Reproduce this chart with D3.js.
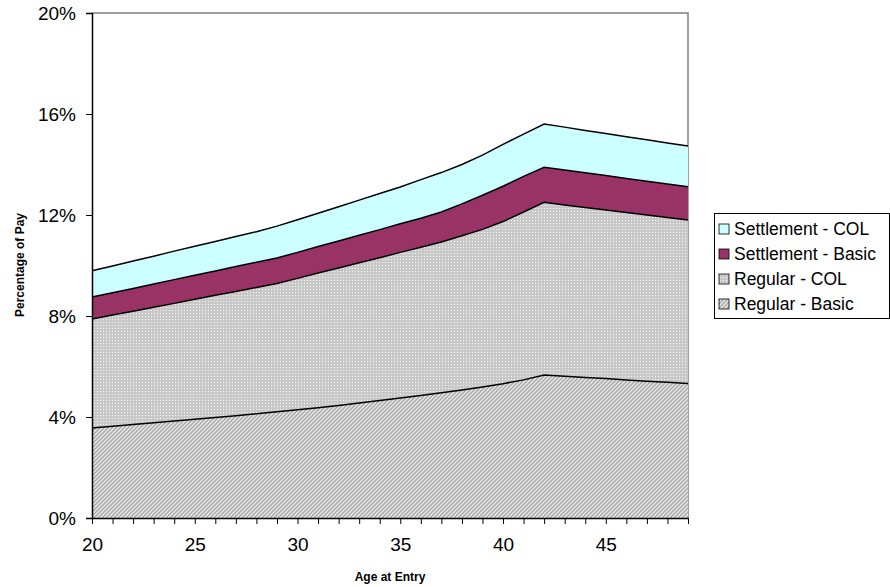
<!DOCTYPE html>
<html>
<head>
<meta charset="utf-8">
<script src="https://cdn.jsdelivr.net/npm/d3@7"></script>
<style>
  body { margin: 0; background: #fff; }
  svg { font-family: "Liberation Sans", Arial, sans-serif; }
</style>
</head>
<body>
<svg id="svg" width="890" height="587"></svg>
<script>
// ages on the category axis
const ages = d3.range(20, 50);

// series values, percent of pay
const regularBasic = [3.56, 3.63, 3.70, 3.77, 3.84, 3.91, 3.98, 4.05, 4.13, 4.21,
    4.29, 4.37, 4.46, 4.55, 4.65, 4.75, 4.85, 4.96, 5.07, 5.19,
    5.32, 5.47, 5.66, 5.61, 5.56, 5.52, 5.47, 5.42, 5.38, 5.33];
const regularCol = [4.32, 4.41, 4.49, 4.58, 4.66, 4.75, 4.84, 4.92, 5.00, 5.08,
    5.20, 5.33, 5.44, 5.56, 5.66, 5.77, 5.87, 5.97, 6.11, 6.24,
    6.42, 6.65, 6.84, 6.79, 6.74, 6.68, 6.63, 6.58, 6.52, 6.47];
const settlementBasic = [0.87, 0.88, 0.90, 0.92, 0.94, 0.95, 0.96, 0.99, 1.00, 1.01,
    1.03, 1.05, 1.07, 1.09, 1.11, 1.13, 1.15, 1.19, 1.26, 1.35,
    1.40, 1.41, 1.39, 1.38, 1.37, 1.36, 1.35, 1.34, 1.33, 1.32];
const settlementCol = [1.04, 1.06, 1.09, 1.10, 1.13, 1.15, 1.17, 1.19, 1.21, 1.26,
    1.29, 1.32, 1.36, 1.39, 1.43, 1.46, 1.53, 1.56, 1.56, 1.59,
    1.66, 1.67, 1.71, 1.70, 1.68, 1.67, 1.65, 1.64, 1.62, 1.61];

const seriesNames = ["Regular - Basic", "Regular - COL", "Settlement - Basic", "Settlement - COL"];
const yTicks = [0, 4, 8, 12, 16, 20];

let svg = d3.select("#svg");

// plot area
const plotLeft = 92, plotRight = 688, plotTop = 13, plotBottom = 518;

// patterns for the two "regular" bands
let defs = svg.append("defs");
let stripes = defs.append("pattern")
    .attr("id", "stripes")
    .attr("patternUnits", "userSpaceOnUse")
    .attr("width", 4).attr("height", 4);
stripes.append("rect").attr("width", 4).attr("height", 4).attr("fill", "#e8e8e8");
stripes.append("path")
    .attr("d", "M-1,1 L1,-1 M0,4 L4,0 M3,5 L5,3")
    .attr("stroke", "#a8a8a8").attr("stroke-width", 1.4);

let dots = defs.append("pattern")
    .attr("id", "dots")
    .attr("patternUnits", "userSpaceOnUse")
    .attr("width", 3).attr("height", 3);
dots.append("rect").attr("width", 3).attr("height", 3).attr("fill", "#c8c8c8");
dots.append("rect").attr("x", 1).attr("y", 1).attr("width", 1).attr("height", 1).attr("fill", "#f4f4f4");

const fills = ["url(#stripes)", "url(#dots)", "#993366", "#CCFFFF"];

let xScale = d3.scaleLinear().domain([20, 49]).range([plotLeft, plotRight]);
let yScale = d3.scaleLinear().domain([0, 20]).range([plotBottom, plotTop]);

// build rows for the stack
let rows = ages.map((a, i) => ({
    age: a,
    "Regular - Basic": regularBasic[i],
    "Regular - COL": regularCol[i],
    "Settlement - Basic": settlementBasic[i],
    "Settlement - COL": settlementCol[i]
}));
let stacked = d3.stack().keys(seriesNames)(rows);

let area = d3.area()
    .x(d => xScale(d.data.age))
    .y0(d => yScale(d[0]))
    .y1(d => yScale(d[1]));
let line = d3.line()
    .x(d => xScale(d.data.age))
    .y(d => yScale(d[1]));

// plot border (grey top and right)
svg.append("path")
    .attr("d", `M${plotLeft},${plotTop} H${plotRight} V${plotBottom}`)
    .attr("fill", "none")
    .attr("stroke", "#808080")
    .attr("stroke-width", 1.5);

let chart = svg.append("g");

chart.selectAll(".band")
    .data(stacked)
    .enter().append("path")
    .attr("class", "band")
    .attr("d", area)
    .attr("fill", (d, i) => fills[i]);

chart.selectAll(".edge")
    .data(stacked)
    .enter().append("path")
    .attr("class", "edge")
    .attr("d", line)
    .attr("fill", "none")
    .attr("stroke", "#000")
    .attr("stroke-width", 1.5);

// y axis
let yAxis = svg.append("g")
    .attr("transform", `translate(${plotLeft},0)`)
    .call(d3.axisLeft(yScale).tickValues(yTicks).tickFormat(d => d + "%").tickSize(6).tickPadding(10));
yAxis.select(".domain").attr("stroke-width", 1.5);
yAxis.selectAll("text").style("font-size", "19px").attr("fill", "#000");

// x axis
let xAxis = svg.append("g")
    .attr("transform", `translate(0,${plotBottom})`)
    .call(d3.axisBottom(xScale).tickValues(ages).tickFormat(d => d % 5 === 0 ? d : "").tickSize(6).tickPadding(14).tickSizeOuter(0));
xAxis.select(".domain").attr("stroke-width", 1.5);
xAxis.selectAll("text").style("font-size", "19px").attr("fill", "#000");

// axis titles
svg.append("text")
    .attr("x", (plotLeft + plotRight) / 2)
    .attr("y", 581)
    .attr("text-anchor", "middle")
    .style("font-size", "12px")
    .style("font-weight", "bold")
    .text("Age at Entry");

svg.append("text")
    .attr("transform", "translate(24,265) rotate(-90)")
    .attr("text-anchor", "middle")
    .style("font-size", "12px")
    .style("font-weight", "bold")
    .text("Percentage of Pay");

// legend
let legend = svg.append("g").attr("transform", "translate(714,213)");
legend.append("rect")
    .attr("x", 0.5).attr("y", 0.5)
    .attr("width", 175).attr("height", 105)
    .attr("fill", "#fff")
    .attr("stroke", "#000");

let legendItems = seriesNames.slice().reverse();
let item = legend.selectAll(".item")
    .data(legendItems)
    .enter().append("g")
    .attr("class", "item")
    .attr("transform", (d, i) => `translate(5,${16 + i * 25})`);

item.append("rect")
    .attr("x", 0).attr("y", -5)
    .attr("width", 10).attr("height", 10)
    .attr("fill", d => fills[seriesNames.indexOf(d)])
    .attr("stroke", "#000")
    .attr("stroke-width", 0.8);

item.append("text")
    .attr("x", 15)
    .attr("y", 6)
    .style("font-size", "17.5px")
    .text(d => d);
</script>
</body>
</html>
